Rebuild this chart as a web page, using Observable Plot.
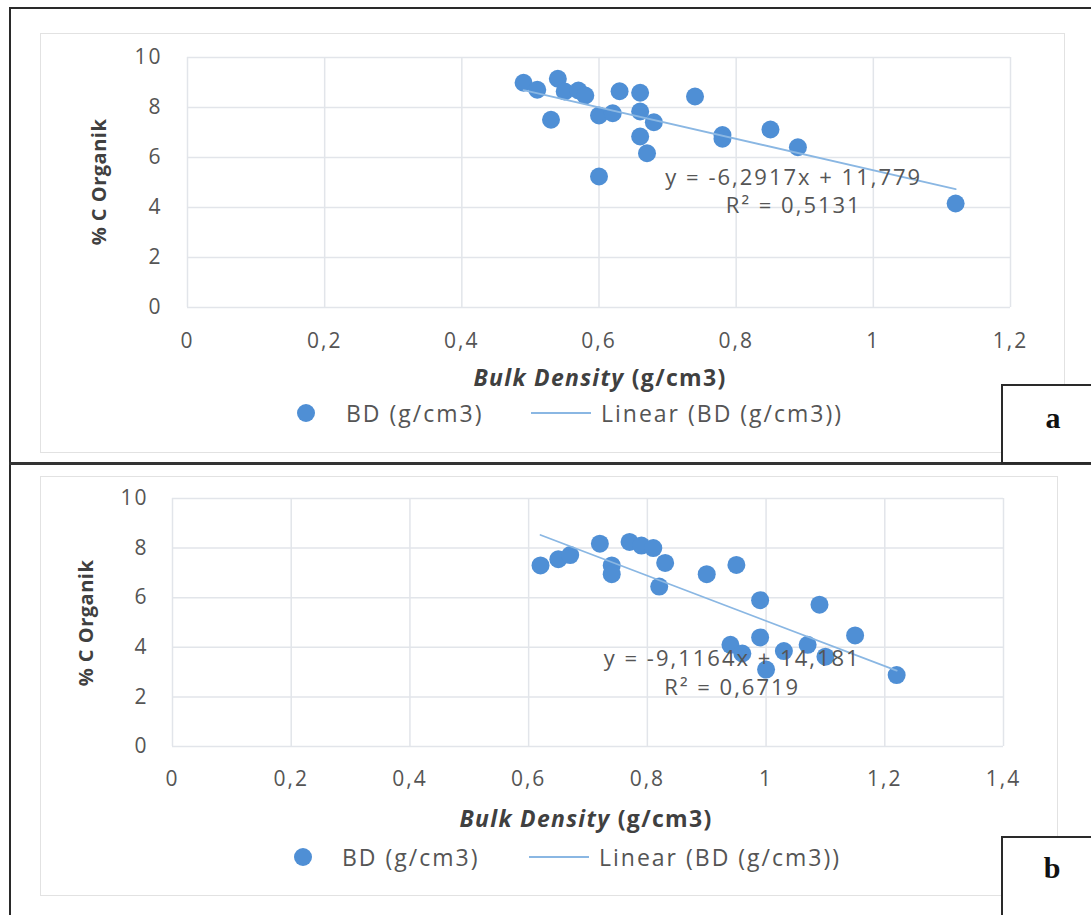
<!DOCTYPE html>
<html>
<head>
<meta charset="utf-8">
<script src="https://cdn.jsdelivr.net/npm/d3@7"></script>
<script src="https://cdn.jsdelivr.net/npm/@observablehq/plot@0.6"></script>
<style>
html, body { margin: 0; padding: 0; background: #fff; }
#page { position: relative; width: 1091px; height: 915px; overflow: hidden; background: #fff; font-family: "Open Sans", sans-serif; }
.abs { position: absolute; }
.plotwrap { position: absolute; left: 0; }
.plotwrap svg { overflow: visible; display: block; }
.leg { position: absolute; white-space: nowrap; color: #555; font-size: 23px; letter-spacing: 2px; line-height: 30px; }
.xt { position: absolute; white-space: nowrap; color: #404040; font-size: 23px; font-weight: 700; letter-spacing: 1.3px; line-height: 30px; transform: translate(-50%, -50%); }
.yt { position: absolute; white-space: nowrap; color: #404040; font-size: 20px; font-weight: 700; letter-spacing: 0.5px; line-height: 26px; transform: translate(-50%, -50%) rotate(-90deg); }
.tag { position: absolute; background: #fff; border: 2px solid #2a2a2a; box-sizing: border-box; }
.tagtxt { position: absolute; font-family: "Liberation Serif", serif; font-weight: 700; font-size: 30px; color: #111; transform: translate(-50%, -50%); line-height: 34px; }
</style>
</head>
<body>
<div id="page"></div>
<script>
// ---------- data ----------
const xTicksA = [0, 0.2, 0.4, 0.6, 0.8, 1, 1.2];
const xTickLabelsA = ["0", "0,2", "0,4", "0,6", "0,8", "1", "1,2"];
const xTicksB = [0, 0.2, 0.4, 0.6, 0.8, 1, 1.2, 1.4];
const xTickLabelsB = ["0", "0,2", "0,4", "0,6", "0,8", "1", "1,2", "1,4"];
const yTicks = [0, 2, 4, 6, 8, 10];
const yTickLabels = ["0", "2", "4", "6", "8", "10"];

// panel a: Bulk Density (g/cm3) vs % C Organik
const bdA = [0.49, 0.51, 0.54, 0.55, 0.57, 0.58, 0.53, 0.60, 0.62, 0.63, 0.66, 0.66, 0.68, 0.66, 0.67, 0.60, 0.74, 0.78, 0.78, 0.85, 0.89, 1.12];
const cA  = [8.99, 8.71, 9.15, 8.64, 8.68, 8.48, 7.51, 7.68, 7.77, 8.65, 8.59, 7.84, 7.41, 6.84, 6.17, 5.24, 8.44, 6.90, 6.75, 7.12, 6.41, 4.16];

// panel b
const bdB = [0.62, 0.65, 0.67, 0.72, 0.77, 0.79, 0.81, 0.74, 0.74, 0.83, 0.82, 0.90, 0.95, 0.99, 1.09, 0.94, 0.96, 0.99, 1.03, 1.07, 1.15, 1.00, 1.10, 1.22];
const cB  = [7.30, 7.55, 7.72, 8.18, 8.25, 8.10, 8.00, 7.30, 6.95, 7.40, 6.45, 6.95, 7.32, 5.90, 5.72, 4.10, 3.75, 4.40, 3.85, 4.10, 4.48, 3.10, 3.62, 2.88];

// trendline coefficients [slope, intercept] as printed on the chart
const trendA = [-6.2917, 11.779];
const trendB = [-9.1164, 14.181];
const eqA = ["y = -6,2917x + 11,779", "R² = 0,5131"];
const eqB = ["y = -9,1164x + 14,181", "R² = 0,6719"];

const seriesName = "BD (g/cm3)";
const trendName = "Linear (BD (g/cm3))";
const xTitleItalic = "Bulk Density";
const xTitleRest = " (g/cm3)";
const yTitle = "% C Organik";
const panelTags = ["a", "b"];

// ---------- drawing ----------
const page = document.getElementById("page");
const DOT = "#4f8fd5";
const TREND = "#8ab7e3";
const GRID = "#e2e5ea";

function el(cls, css, html) {
  const d = document.createElement("div");
  if (cls) d.className = cls;
  Object.assign(d.style, css);
  if (html != null) d.innerHTML = html;
  page.appendChild(d);
  return d;
}

function makePlot(o) {
  const rows = o.bd.map((x, i) => ({x, y: o.c[i]}));
  const xs = [d3.min(o.bd), d3.max(o.bd)];
  const trend = xs.map(x => ({x, y: o.trend[0] * x + o.trend[1]}));
  return Plot.plot({
    width: 1091,
    height: o.height,
    marginLeft: o.ml, marginRight: o.mr, marginTop: o.mt, marginBottom: o.mb,
    x: {domain: [0, o.xTicks[o.xTicks.length - 1]]},
    y: {domain: [0, 10]},
    style: "font-family: 'Open Sans', sans-serif; font-size: 21px; color: #555; letter-spacing: 2px; background: transparent; overflow: visible;",
    marks: [
      Plot.gridX(o.xTicks, {stroke: GRID, strokeOpacity: 1, strokeWidth: 1.5}),
      Plot.gridY(yTicks, {stroke: GRID, strokeOpacity: 1, strokeWidth: 1.5}),
      Plot.axisX(o.xTicks, {tickSize: 0, tickPadding: o.xpad, label: null, fill: "#555",
        tickFormat: d => o.xLabels[o.xTicks.indexOf(d)]}),
      Plot.axisY(yTicks, {tickSize: 0, tickPadding: o.ypad, label: null, fill: "#555",
        tickFormat: d => yTickLabels[yTicks.indexOf(d)]}),
      Plot.dot(rows, {x: "x", y: "y", r: 9, fill: DOT, stroke: "none"}),
      Plot.line(trend, {x: "x", y: "y", stroke: TREND, strokeWidth: 1.8}),
      Plot.text([o.eq.join("\n")], {x: () => o.eqX, y: () => o.eqY, text: d => d,
        textAnchor: "middle", lineAnchor: "middle", lineHeight: 1.3,
        fontSize: 22, fill: "#555"})
    ]
  });
}

// background frames (light gray chart areas)
el("abs", {left: "40px", top: "33px", width: "1025px", height: "420px", border: "1px solid #e2e2e2", boxSizing: "border-box"});
el("abs", {left: "40px", top: "476px", width: "1018px", height: "420px", border: "1px solid #e2e2e2", boxSizing: "border-box"});

// panel a plot
const wa = el("plotwrap", {top: "0px"});
wa.appendChild(makePlot({
  bd: bdA, c: cA, trend: trendA, eq: eqA, xTicks: xTicksA, xLabels: xTickLabelsA,
  height: 463, ml: 187, mr: 81, mt: 57, mb: 156, xpad: 25.5, ypad: 25,
  eqX: 0.884, eqY: 4.7
}));

// panel b plot
const wb = el("plotwrap", {top: "463px"});
wb.appendChild(makePlot({
  bd: bdB, c: cB, trend: trendB, eq: eqB, xTicks: xTicksB, xLabels: xTickLabelsB,
  height: 452, ml: 172, mr: 88, mt: 35, mb: 169, xpad: 24.5, ypad: 24,
  eqX: 0.943, eqY: 3.02
}));

// axis titles
function xTitle(cx, cy) {
  el("xt", {left: cx + "px", top: cy + "px"}, `<i>${xTitleItalic}</i>${xTitleRest}`);
}
function yTitleAt(cx, cy) {
  el("yt", {left: cx + "px", top: cy + "px"}, yTitle);
}
xTitle(600, 377);
xTitle(586, 818);
yTitleAt(99, 182);
yTitleAt(86, 623);

// legends
function legend(dotX, textX, lineX0, lineX1, text2X, cy) {
  const svgNS = "http://www.w3.org/2000/svg";
  const s = document.createElementNS(svgNS, "svg");
  s.setAttribute("width", 1091); s.setAttribute("height", 30);
  s.style.position = "absolute"; s.style.left = "0px"; s.style.top = (cy - 15) + "px";
  const c = document.createElementNS(svgNS, "circle");
  c.setAttribute("cx", dotX); c.setAttribute("cy", 15); c.setAttribute("r", 9); c.setAttribute("fill", DOT);
  s.appendChild(c);
  const l = document.createElementNS(svgNS, "line");
  l.setAttribute("x1", lineX0); l.setAttribute("x2", lineX1); l.setAttribute("y1", 15); l.setAttribute("y2", 15);
  l.setAttribute("stroke", TREND); l.setAttribute("stroke-width", 2);
  s.appendChild(l);
  page.appendChild(s);
  el("leg", {left: textX + "px", top: (cy - 15) + "px"}, seriesName);
  el("leg", {left: text2X + "px", top: (cy - 15) + "px"}, trendName);
}
legend(306, 346, 531, 591, 601, 413);
legend(303, 342, 529, 589, 599, 857);

// outer document frame lines
el("abs", {left: "9px", top: "7px", width: "1082px", height: "2px", background: "#2a2a2a"});
el("abs", {left: "9px", top: "7px", width: "2px", height: "908px", background: "#2a2a2a"});
el("abs", {left: "9px", top: "462px", width: "1082px", height: "3px", background: "#333"});

// panel tags
el("tag", {left: "1001px", top: "384px", width: "100px", height: "80px"});
el("tagtxt", {left: "1053px", top: "418px"}, panelTags[0]);
el("tag", {left: "1001px", top: "836px", width: "100px", height: "100px"});
el("tagtxt", {left: "1052px", top: "868px"}, panelTags[1]);
</script>
</body>
</html>
